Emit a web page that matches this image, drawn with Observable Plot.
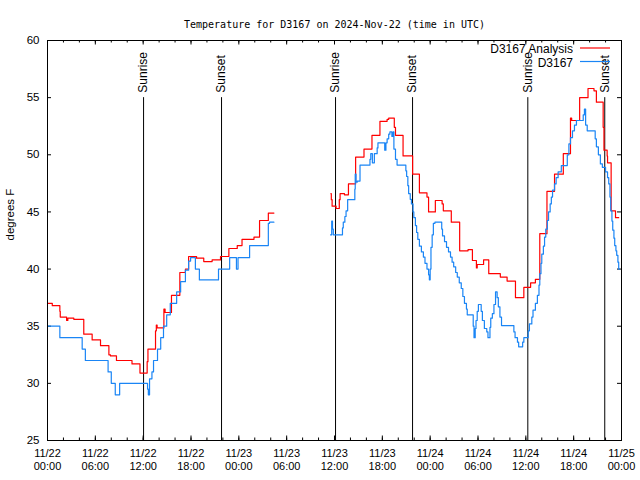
<!DOCTYPE html>
<html>
<head>
<meta charset="utf-8">
<script src="https://cdn.jsdelivr.net/npm/d3@7"></script>
<script src="https://cdn.jsdelivr.net/npm/@observablehq/plot@0.6"></script>
<style>
  body { margin: 0; background: #fff; }
  #chart { width: 640px; height: 480px; }
</style>
</head>
<body>
<div id="chart"></div>
<script>
// ---- data (hours since 2024-11-22 00:00 UTC, temperature °F) ----
const titleText = "Temperature for D3167 on 2024-Nov-22 (time in UTC)";
const yLabel = "degrees F";
const seriesNames = ["D3167 Analysis", "D3167"];
const seriesColors = ["#ff0000", "#1a85f5"];

const analysisHours = [0,0.6,1.55,1.6,2.4,2.55,2.9,3.3,4.55,5.6,6.65,7.7,7.9,8.65,10.6,11.6,12.5,12.6,13.55,13.65,13.75,14.6,14.75,15.55,16.6,17.3,17.7,18.7,19.6,20.65,21.7,22.75,23.8,24.4,25.9,26.6,27.7,28.4,
  31,
  35.55,35.6,35.7,36.2,36.6,36.7,37.25,37.75,38.65,39.7,40.7,41.7,42.6,42.8,43.5,43.65,44.6,45.8,46.65,47.6,47.8,48.65,49.5,49.65,50.65,51.7,52.75,53.3,53.8,53.9,54.7,55.35,56.8,57.65,58.7,59.75,60.6,61.2,61.75,62.65,63.6,64.7,65.6,65.75,66.75,67.8,68.55,68.85,69.7,69.8,70.2,70.25,70.7,71.25,71.65];
const analysisTemps = [37.0,36.8,36.3,35.8,35.5,35.7,35.7,35.6,34.3,33.8,33.3,32.5,32.4,32.0,31.7,30.9,31.9,33.0,34.6,35.1,34.85,36.5,36.2,37.7,39.7,40.0,41.1,40.95,40.66,40.8,41.1,41.8,42.06,42.6,42.8,44.25,44.9,44.9,
  null,
  46.6,46.07,45.5,45.3,46.07,46.6,46.5,47.45,49.8,50.5,51.7,52.93,53.1,53.2,52.4,51.7,49.9,48.3,46.67,46.3,45.0,46.0,45.7,45.1,44.1,41.6,41.7,40.75,40.1,40.4,40.8,39.6,39.3,38.95,37.5,38.4,38.8,39.1,43.1,46.8,48.3,50.1,53.2,53.0,55.0,55.8,55.6,54.6,52.4,50.4,49.9,49.3,45.1,44.5,44.5];

const obsHours = [0,1.55,4.35,4.75,7.6,8.0,8.5,9.05,12.55,12.65,12.8,13.1,13.3,13.8,14.2,14.55,14.95,15.4,16.2,16.7,17.3,17.7,17.95,18.55,19.05,21.45,22.85,23.7,23.9,25.35,27.7,27.85,28.4,
  31,
  35.5,35.65,35.75,35.85,37.0,37.1,37.3,37.45,37.65,38.55,38.6,38.7,38.85,39.2,40.45,40.55,40.75,41.0,41.35,41.45,42.3,42.45,42.6,42.8,42.95,43.2,43.35,43.45,43.65,43.85,
  44.95,45.05,45.2,45.3,45.5,45.65,45.85,45.95,46.15,46.3,46.45,46.65,46.9,47.15,47.35,47.6,47.8,47.9,48.0,48.1,48.25,48.4,48.6,
  49.45,49.55,49.8,50.05,50.3,50.55,50.75,50.95,51.2,51.4,51.65,51.9,52.1,52.3,52.55,52.65,53.4,53.5,53.65,53.75,53.9,54.05,54.4,54.55,54.8,55.1,55.25,55.5,55.6,55.8,56.0,56.2,56.4,56.55,56.75,56.95,
  58.5,58.65,58.95,59.1,59.6,59.75,60.3,60.45,60.75,60.9,61.2,61.45,61.65,61.75,61.9,62.0,62.2,62.35,62.5,62.7,62.85,63.05,63.2,63.35,63.6,63.8,64.05,64.45,65.2,65.4,65.6,65.85,66.1,66.35,67.2,67.35,67.5,67.7,
  68.7,68.85,69.1,69.35,69.6,70.0,70.25,70.4,70.55,70.65,70.8,70.9,71.05,71.15,71.3,71.4,71.55,71.65,71.75];
const obsTemps = [35,34,33,32,31,30,29,30,29.5,29,30.4,31,32,33,34,35,36,37,38,38.9,39.9,40.7,41,40,39.05,40,41,40,41,42.06,44,44.1,44.1,
  null,
  43.0,44.2,43.5,43.0,43.6,44.1,44.6,45.1,46.07,47.0,48.3,47.6,47.7,49.1,49.6,50.1,49.3,50.1,50.6,51.05,50.4,51.05,51.4,51.8,52.0,51.6,52.0,50.5,49.6,49.1,
  48.6,48.1,47.3,46.6,46.1,45.7,45.0,44.5,43.8,43.2,42.6,42.0,41.5,41.05,40.5,40.0,39.5,39.06,40.0,41.9,43.0,44.0,44.1,
  43.5,42.9,42.4,41.9,41.5,41.05,40.6,40.2,39.7,39.3,38.8,38.3,37.6,37.0,36.5,36.0,35.0,34.0,34.8,35.5,36.3,36.9,36.3,35.5,34.8,34.5,34.0,34.9,35.7,36.1,36.9,38.0,37.5,36.7,35.8,35.06,
  34.5,34.0,33.6,33.2,33.6,34.0,34.6,35.2,35.8,36.4,37.0,37.7,38.6,39.6,40.5,41.3,42.0,42.8,43.5,44.25,45.0,45.7,46.3,46.9,47.45,48.0,48.5,49.06,50.0,50.95,51.5,52.1,52.6,53.0,53.5,54.0,52.6,52.1,
  51.4,50.7,50.0,49.2,48.9,48.5,48.0,47.45,46.3,45.1,44.2,43.4,42.7,42.05,41.6,41.2,40.6,40.0,40.0];

const sunHours = [12.05, 21.83, 36.13, 45.79, 60.25, 69.9];
const sunLabels = ["Sunrise", "Sunset", "Sunrise", "Sunset", "Sunrise", "Sunset"];
const sunTop = 55;

const yTicks = [25, 30, 35, 40, 45, 50, 55, 60];
const yDomain = [25, 60];
const startMs = Date.UTC(2024, 10, 22, 0, 0);
const endMs = Date.UTC(2024, 10, 25, 0, 0);

// ---- build tables ----
const toDate = h => new Date(startMs + h * 3600e3);
const analysis = analysisHours.map((h, i) => ({t: toDate(h), v: analysisTemps[i]}));
const obs = obsHours.map((h, i) => ({t: toDate(h), v: obsTemps[i]}));
const sun = sunHours.map((h, i) => ({t: toDate(h), label: sunLabels[i]}));
const majorX = d3.utcHour.every(6).range(new Date(startMs), new Date(endMs + 1));
const minorX = d3.utcHour.every(2).range(new Date(startMs), new Date(endMs + 1));

const W = 640, H = 480, mt = 40, mr = 19, mb = 40, ml = 47;
const fw = W - ml - mr, fh = H - mt - mb;

const chart = Plot.plot({
  width: W, height: H,
  marginTop: mt, marginRight: mr, marginBottom: mb, marginLeft: ml,
  style: {fontFamily: "'Liberation Sans', Arial, sans-serif", fontSize: "11px", background: "#fff", color: "#000"},
  x: {type: "utc", domain: [new Date(startMs), new Date(endMs)]},
  y: {domain: yDomain},
  marks: [
    Plot.axisY(yTicks, {tickSize: 0, tickPadding: 8, label: null, fontSize: 11.5}),
    Plot.axisX(majorX, {tickSize: 0, tickPadding: 9, label: null, tickFormat: d3.utcFormat("%m/%d"), fontSize: 11, textOverflow: null}),
    Plot.axisX(majorX, {tickSize: 0, tickPadding: 21.5, label: null, tickFormat: d3.utcFormat("%H:%M"), fontSize: 11}),
    // inward ticks on all four sides
    Plot.tickY(yTicks, {y: d => d, insetRight: fw - 4, stroke: "#000"}),
    Plot.tickY(yTicks, {y: d => d, insetLeft: fw - 4, stroke: "#000"}),
    Plot.tickX(minorX, {x: d => d, insetTop: fh - 2.5, stroke: "#000"}),
    Plot.tickX(minorX, {x: d => d, insetBottom: fh - 2.5, stroke: "#000"}),
    Plot.tickX(majorX, {x: d => d, insetTop: fh - 4.5, stroke: "#000"}),
    Plot.tickX(majorX, {x: d => d, insetBottom: fh - 4.5, stroke: "#000"}),
    // sunrise / sunset
    Plot.ruleX(sun, {x: "t", y1: yDomain[0], y2: sunTop, stroke: "#000", strokeWidth: 1}),
    Plot.text(sun, {x: "t", y: sunTop, text: "label", rotate: -90, textAnchor: "start", lineAnchor: "middle", dy: -5, fontSize: 12, fill: "#000"}),
    // series
    Plot.line(analysis, {x: "t", y: "v", curve: "step-after", stroke: seriesColors[0], strokeWidth: 1.2}),
    Plot.line(obs, {x: "t", y: "v", curve: "step-after", stroke: seriesColors[1], strokeWidth: 1.2}),
    Plot.frame({stroke: "#000"}),
    // title and y label
    Plot.text([titleText], {frameAnchor: "top", dy: -20, fontFamily: "'DejaVu Sans Mono', monospace", fontSize: 10, fill: "#000"}),
    Plot.text([yLabel], {frameAnchor: "left", dx: -37, rotate: -90, fontSize: 11.5, fill: "#000"})
  ]
});
document.getElementById("chart").appendChild(chart);

// legend (top-right, inside the frame)
const svg = d3.select(chart);
const leg = svg.append("g").attr("font-family", "'Liberation Sans', Arial, sans-serif").attr("font-size", 12);
seriesNames.forEach((name, i) => {
  const y = mt + 9 + i * 13.5;
  leg.append("text").attr("x", W - mr - 48).attr("y", y).attr("dy", "0.35em")
    .attr("text-anchor", "end").attr("fill", "#000").text(name);
  leg.append("line").attr("x1", W - mr - 41).attr("x2", W - mr - 11)
    .attr("y1", y - 1).attr("y2", y - 1).attr("stroke", seriesColors[i]).attr("stroke-width", 1.2);
});
</script>
</body>
</html>
